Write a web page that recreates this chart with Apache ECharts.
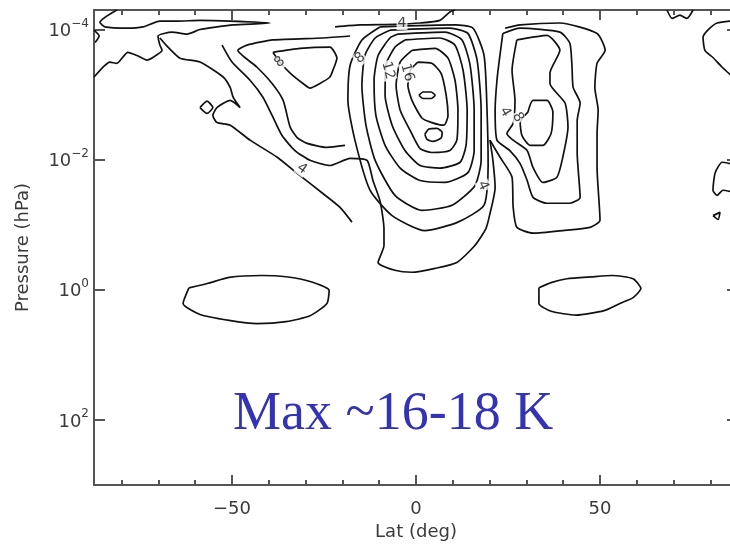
<!DOCTYPE html>
<html>
<head>
<meta charset="utf-8">
<script src="https://cdn.jsdelivr.net/npm/echarts@6/dist/echarts.min.js"></script>
<style>
  html, body { margin: 0; padding: 0; background: #fff; }
  #chart { width: 730px; height: 547px; }
</style>
</head>
<body>
<div id="chart"></div>
<script>
// every contour point is [lat (deg), log10 pressure (hPa)]
const westBand = [[-81.3,-4.30],[-85.9,-4.11],[-84.5,-4.04],[-78.5,-4.02],[-74.2,-4.04],[-69.6,-4.13],[-64.9,-4.13],[-58.7,-4.14],[-50.5,-4.13],[-39.7,-4.10],[-49.7,-4.07],[-54.1,-4.04],[-58.7,-4.00],[-62.2,-3.93],[-66.3,-3.96],[-70.1,-3.90],[-69.6,-3.76],[-69.0,-3.68],[-71.5,-3.57],[-73.1,-3.53],[-75.8,-3.60],[-78.3,-3.65],[-81.3,-3.48],[-83.2,-3.50],[-85.1,-3.42],[-87.5,-3.27]];
const westSpike = [[-69.6,-3.87],[-67.4,-3.73],[-64.1,-3.56],[-58.7,-3.50],[-52.4,-3.27],[-50.5,-3.11],[-49.7,-2.96],[-47.8,-2.80],[-50.5,-2.91],[-54.1,-2.80],[-55.2,-2.68],[-54.1,-2.57],[-50.5,-2.53],[-45.1,-2.30],[-37.8,-2.04],[-32.3,-1.79],[-25.3,-1.48],[-20.7,-1.27],[-17.4,-1.04]];
const westInner8 = [[-38.9,-3.65],[-31.5,-3.71],[-23.4,-3.73],[-21.5,-3.56],[-22.6,-3.37],[-23.4,-3.27],[-26.1,-3.17],[-28.8,-3.10],[-30.7,-3.17],[-34.2,-3.33],[-37.0,-3.50],[-38.9,-3.65]];
const westMid = [[-17.9,-3.90],[-25.3,-3.87],[-38.9,-3.84],[-45.9,-3.76],[-48.4,-3.68],[-43.2,-3.42],[-39.1,-3.17],[-36.1,-2.91],[-34.2,-2.50],[-32.3,-2.34],[-29.6,-2.25],[-24.2,-2.19],[-19.3,-2.22]];
const outer4 = [[-52.7,-3.76],[-50.0,-3.50],[-45.1,-3.22],[-41.6,-2.96],[-39.1,-2.68],[-36.4,-2.37],[-32.9,-2.14],[-28.8,-1.99],[-23.4,-1.91],[-17.9,-2.02],[-13.3,-1.99],[-11.7,-1.68],[-9.8,-1.37],[-8.7,-0.94],[-8.7,-0.68],[-10.3,-0.42],[-5.7,-0.30],[-1.1,-0.27],[5.2,-0.33],[11.1,-0.42],[16.0,-0.68],[19.0,-0.94],[20.1,-1.17],[21.5,-1.57],[20.9,-1.99],[20.1,-2.30]];
const core1 = [[0.8,-2.99],[1.9,-3.04],[4.1,-3.04],[5.2,-2.99],[4.1,-2.94],[1.9,-2.94],[0.8,-2.99]];
const core2 = [[2.4,-2.39],[3.5,-2.47],[5.7,-2.48],[7.1,-2.42],[6.8,-2.33],[4.6,-2.28],[3.0,-2.31],[2.4,-2.39]];
const ring16 = [[0.5,-3.50],[4.3,-3.48],[6.8,-3.33],[8.2,-2.99],[8.7,-2.68],[7.6,-2.53],[4.3,-2.57],[1.6,-2.64],[-1.1,-2.91],[-2.2,-3.14],[-1.6,-3.37],[0.5,-3.50]];
const ring14 = [[-1.1,-3.68],[5.2,-3.71],[8.7,-3.56],[10.6,-3.22],[11.4,-2.76],[11.1,-2.30],[9.2,-2.14],[4.3,-2.11],[1.1,-2.17],[-1.6,-2.45],[-4.3,-2.76],[-5.4,-3.14],[-4.3,-3.50],[-1.1,-3.68]];
const ring12 = [[-3.0,-3.84],[6.5,-3.87],[10.6,-3.76],[12.8,-3.37],[13.9,-2.76],[13.6,-2.22],[12.0,-1.96],[6.5,-1.87],[1.1,-1.91],[-3.0,-2.14],[-6.5,-2.53],[-8.4,-2.99],[-8.2,-3.45],[-5.7,-3.73],[-3.0,-3.84]];
const ring10 = [[-4.9,-3.93],[7.9,-3.96],[12.5,-3.84],[14.7,-3.45],[15.8,-2.76],[15.8,-2.14],[14.1,-1.80],[7.9,-1.65],[1.1,-1.68],[-4.3,-1.87],[-8.4,-2.22],[-10.9,-2.68],[-11.4,-3.22],[-10.3,-3.60],[-7.1,-3.87],[-4.9,-3.93]];
const ring8 = [[-7.1,-3.99],[9.2,-4.02],[14.1,-3.94],[16.6,-3.53],[17.7,-2.76],[17.7,-1.99],[16.0,-1.60],[9.8,-1.30],[1.6,-1.22],[-5.7,-1.45],[-11.1,-1.99],[-13.6,-2.53],[-14.7,-3.14],[-13.9,-3.60],[-11.1,-3.87],[-7.1,-3.99]];
const ring6 = [[-9.8,-4.04],[10.6,-4.07],[15.5,-4.02],[18.5,-3.60],[19.3,-2.76],[19.6,-1.91],[18.5,-1.30],[11.4,-1.04],[2.4,-0.91],[-6.5,-1.14],[-12.5,-1.53],[-16.6,-2.30],[-18.5,-2.91],[-17.9,-3.45],[-14.7,-3.84],[-9.8,-4.04]];
const topLine = [[-22.0,-4.04],[-15.2,-4.07],[-5.7,-4.08],[1.1,-4.10],[6.5,-4.14],[9.2,-4.27],[10.6,-4.30]];
const eastOuter = [[24.2,-4.02],[28.3,-4.07],[39.1,-4.10],[49.2,-3.94],[51.4,-3.68],[49.2,-3.48],[48.6,-3.11],[49.5,-2.76],[49.2,-2.40],[49.2,-1.88],[50.0,-1.07],[47.3,-0.96],[39.9,-0.91],[31.8,-0.87],[27.4,-0.96],[26.4,-1.27],[26.1,-1.73],[22.8,-2.04],[20.1,-2.30]];
const eastMid = [[23.6,-3.94],[28.3,-4.02],[39.1,-3.96],[41.8,-3.79],[42.4,-3.42],[42.7,-3.11],[44.6,-2.87],[43.8,-2.60],[43.8,-2.10],[44.6,-1.42],[41.8,-1.33],[35.6,-1.33],[31.8,-1.42],[30.2,-1.68],[28.3,-1.94],[25.5,-2.14],[22.0,-2.30],[21.5,-2.76],[22.0,-3.22],[22.8,-3.60],[23.6,-3.94]];
const eastInner = [[27.4,-3.84],[35.6,-3.91],[39.1,-3.68],[36.4,-3.33],[36.4,-3.17],[40.5,-2.87],[41.3,-2.50],[39.9,-2.04],[38.3,-1.73],[34.5,-1.65],[31.8,-1.88],[30.2,-2.14],[26.4,-2.30],[24.7,-2.40],[26.4,-2.56],[26.9,-2.91],[26.1,-3.37],[27.4,-3.84]];
const eastCore = [[30.4,-2.73],[31.8,-2.91],[35.6,-2.91],[37.2,-2.73],[36.7,-2.40],[34.5,-2.22],[31.0,-2.22],[28.8,-2.37],[28.3,-2.57],[30.4,-2.73]];
const farEastTop = [[87.5,-4.14],[81.8,-4.10],[79.3,-3.99],[78.0,-3.88],[78.5,-3.68],[80.7,-3.57],[83.2,-3.42],[87.5,-3.20]];
const farEastZigzag = [[68.2,-4.30],[69.6,-4.17],[71.7,-4.22],[73.6,-4.17],[75.3,-4.30]];
const farEastMid = [[87.5,-1.91],[83.2,-1.96],[81.3,-1.80],[80.7,-1.53],[81.8,-1.45],[83.4,-1.53],[87.5,-1.48]];
const farEastDot = [[80.7,-1.14],[82.6,-1.19],[82.1,-1.08],[80.7,-1.14]];
const westDiamond = [[-58.7,-2.80],[-56.8,-2.90],[-55.2,-2.80],[-56.8,-2.71],[-58.7,-2.80]];
const edgeDiamond = [[-87.5,-3.99],[-86.1,-3.90],[-87.2,-3.80]];
const westBlob = [[-61.7,-0.03],[-63.3,0.21],[-58.7,0.38],[-50.8,0.47],[-43.2,0.52],[-35.3,0.49],[-28.8,0.40],[-24.2,0.21],[-23.6,0.01],[-28.3,-0.12],[-35.3,-0.20],[-42.1,-0.22],[-50.8,-0.19],[-56.5,-0.10],[-61.7,-0.03]];
const eastBlob = [[33.4,-0.03],[33.4,0.21],[36.7,0.33],[43.5,0.39],[51.1,0.32],[55.4,0.21],[59.0,0.12],[61.1,-0.02],[59.0,-0.17],[53.3,-0.22],[47.8,-0.20],[41.0,-0.17],[36.7,-0.11],[33.4,-0.03]];

const contourPaths = [westBand, westSpike, westInner8, westMid, outer4, core1, core2, ring16, ring14,
  ring12, ring10, ring8, ring6, topLine, eastOuter, eastMid, eastInner, eastCore, farEastTop,
  farEastZigzag, farEastMid, farEastDot, westDiamond, edgeDiamond, westBlob, eastBlob];

// contour labels: [lat, log10 pressure, text]
const contourLabels = [[-3.8,-4.10,'4'],[-37.0,-3.50,'8'],[-15.2,-3.56,'8'],[-7.6,-3.37,'12'],[-2.4,-3.34,'16'],
  [-31.0,-1.86,'4'],[18.2,-1.60,'4'],[24.2,-2.73,'4'],[27.7,-2.65,'8']];
const labelAngles = [0, 40, 40, -75, -75, -35, -65, -60, -60];

const pressureTicks = [-4, -2, 0, 2];
const latLabelTicks = [-50, 0, 50];
const latMinorTicks = [-80, -70, -60, -40, -30, -20, -10, 10, 20, 30, 40, 60, 70, 80];

const chart = echarts.init(document.getElementById('chart'));
const axisColor = '#555';
const textColor = '#3a3a3a';
const latMin = -87.5, latMax = 87.5, pMin = -4.3, pMax = 3;

function xAx(position, ticks, len, showLabel, showLine) {
  return {
    type: 'value', position, min: latMin, max: latMax,
    axisLine: { show: showLine, onZero: false, lineStyle: { color: axisColor, width: 2 } },
    axisTick: { show: true, inside: true, length: len, customValues: ticks, lineStyle: { color: axisColor, width: 2 } },
    axisLabel: showLabel ? {
      show: true, customValues: ticks, margin: 15, color: textColor, fontSize: 18, fontFamily: 'DejaVu Sans',
      formatter: v => (v < 0 ? '\u2212' + (-v) : String(v))
    } : { show: false },
    splitLine: { show: false }
  };
}

function yAx(position, showLabel) {
  return {
    type: 'value', position, min: pMin, max: pMax, inverse: true,
    axisLine: { show: true, onZero: false, lineStyle: { color: axisColor, width: 2 } },
    axisTick: { show: true, inside: true, length: 11, customValues: pressureTicks, lineStyle: { color: axisColor, width: 2 } },
    axisLabel: showLabel ? {
      show: true, customValues: pressureTicks, margin: 5, color: textColor,
      formatter: v => '{b|10}{s|' + (v < 0 ? '\u2212' + (-v) : v) + '}',
      rich: {
        b: { fontSize: 18, fontFamily: 'DejaVu Sans', color: textColor, padding: [4, 0, 0, 0] },
        s: { fontSize: 12, fontFamily: 'DejaVu Sans', color: textColor, padding: [0, 0, 12, 0] }
      }
    } : { show: false },
    splitLine: { show: false },
    name: showLabel ? 'Pressure (hPa)' : '',
    nameLocation: 'middle', nameGap: 62, nameRotate: 90,
    nameTextStyle: { color: textColor, fontSize: 18, fontFamily: 'DejaVu Sans' }
  };
}

const xAxes = [
  xAx('bottom', latLabelTicks, 10, true, true),
  xAx('top', latLabelTicks, 10, false, true),
  xAx('bottom', latMinorTicks, 5, false, false),
  xAx('top', latMinorTicks, 5, false, false)
];
Object.assign(xAxes[0], {
  name: 'Lat (deg)', nameLocation: 'middle', nameGap: 38,
  nameTextStyle: { color: textColor, fontSize: 18, fontFamily: 'DejaVu Sans' }
});

const series = contourPaths.map(path => ({
  type: 'line', data: path, xAxisIndex: 0, yAxisIndex: 0,
  symbol: 'none', smooth: 0.2, silent: true,
  lineStyle: { color: '#111', width: 1.7 }
}));

series.push({
  type: 'scatter', xAxisIndex: 0, yAxisIndex: 0, symbolSize: 0, silent: true, z: 5,
  data: contourLabels.map((d, i) => ({
    value: d,
    label: { rotate: labelAngles[i] }
  })),
  label: {
    show: true, position: 'inside', formatter: p => p.value[2],
    color: '#111', fontSize: 14, fontFamily: 'DejaVu Sans', backgroundColor: '#fff', padding: [0, 1]
  }
});

chart.setOption({
  animation: false,
  backgroundColor: '#fff',
  grid: { left: 94, right: -8, top: 10, bottom: 62, outerBoundsMode: 'none' },
  xAxis: xAxes,
  yAxis: [yAx('left', true), yAx('right', false)],
  series,
  graphic: [{
    type: 'text', left: 233, top: 388,
    style: { text: 'Max ~16-18 K', font: '54px "Liberation Serif"', fill: '#3333b3' }
  }]
});
window.addEventListener('resize', () => chart.resize());
</script>
</body>
</html>
